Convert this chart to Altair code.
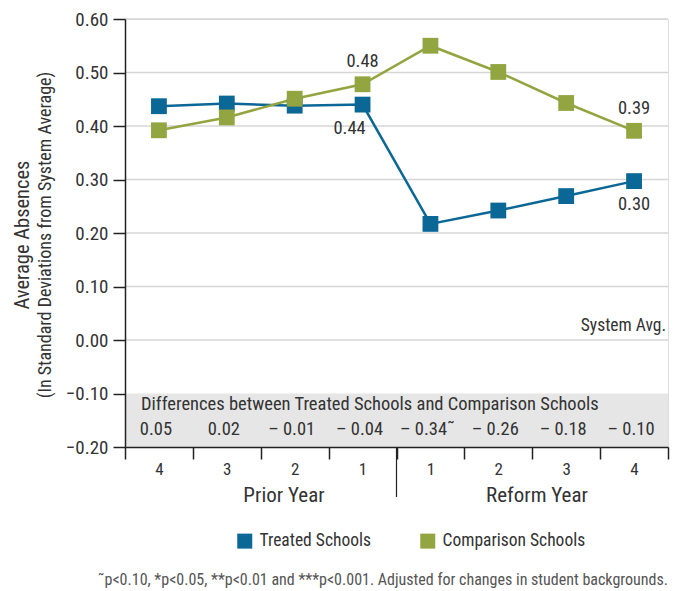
import json
import altair as alt
import pandas as pd

# ---------------- data ----------------
periods = ["P4", "P3", "P2", "P1", "R1", "R2", "R3", "R4"]
tick_labels = ["4", "3", "2", "1", "1", "2", "3", "4"]
treated = [0.437, 0.442, 0.438, 0.440, 0.217, 0.242, 0.269, 0.297]
comparison = [0.392, 0.416, 0.451, 0.478, 0.550, 0.501, 0.443, 0.391]
series_names = ["Treated Schools", "Comparison Schools"]
series_colors = ["#0b6796", "#93a540"]
differences = ["0.05", "0.02", "– 0.01", "– 0.04", "– 0.34˜", "– 0.26", "– 0.18", "– 0.10"]
y_ticks = [-0.2, -0.1, 0.0, 0.1, 0.2, 0.3, 0.4, 0.5, 0.6]
grid_values = [0.0, 0.1, 0.2, 0.3, 0.4, 0.5, 0.6]
above_series, above_periods, above_text = "Comparison Schools", ["P1", "R4"], ["0.48", "0.39"]
below_series, below_periods, below_text = "Treated Schools", ["P1", "R4"], ["0.44", "0.30"]
box_range = [-0.1, -0.2]
diff_title = "Differences between Treated Schools and Comparison Schools"
group_labels = ["Prior Year", "Reform Year"]
y_title = "Average Absences"
y_subtitle = "(In Standard Deviations from System Average)"
system_label = "System Avg."
footnote = "˜p<0.10, *p<0.05, **p<0.01 and ***p<0.001. Adjusted for changes in student backgrounds."

# ---------------- tables ----------------
long = pd.DataFrame({
    "period": periods * 2,
    "value": treated + comparison,
    "series": [series_names[0]] * len(periods) + [series_names[1]] * len(periods),
})
lookup = {(s, p): v for s, p, v in zip(long["series"], long["period"], long["value"])}
diff_df = pd.DataFrame({"period": periods, "text": differences})
grid_df = pd.DataFrame({"value": grid_values})
box_df = pd.DataFrame({"value": [box_range[0]], "value2": [box_range[1]]})

W, H = 543, 428
FONT = "Liberation Sans Narrow, Roboto Condensed, DejaVu Sans Condensed, sans-serif"
TXT = "#333333"

xscale = alt.Scale(domain=periods, type="band", paddingInner=0, paddingOuter=0)
yscale = alt.Scale(domain=[-0.2, 0.6], nice=False, zero=False)
label_map = json.dumps(dict(zip(periods, tick_labels)))

xaxis = alt.Axis(title=None, labelAngle=0, tickBand="extent",
                 labelExpr=f"{label_map}[datum.label]",
                 tickSize=12, tickWidth=1.5, tickColor="#222",
                 domainColor="#222", domainWidth=1.5,
                 labelFontSize=17, labelColor=TXT, labelPadding=2,
                 labelFont=FONT, zindex=1)
yaxis = alt.Axis(title=None, values=y_ticks, format=".2f", grid=False,
                 tickSize=12, tickWidth=1.5, tickColor="#222",
                 domainColor="#222", domainWidth=1.5,
                 labelFontSize=19, labelColor=TXT, labelPadding=5,
                 labelFont=FONT, zindex=1)


def X():
    return alt.X("period:N", scale=xscale, sort=periods, axis=xaxis)


def Y():
    return alt.Y("value:Q", scale=yscale, axis=yaxis)


legend = alt.Legend(title=None, orient="none", legendX=111, legendY=513,
                    direction="horizontal", symbolType="square",
                    symbolSize=225, symbolStrokeWidth=0, symbolOpacity=1,
                    labelFontSize=17.5, labelColor=TXT, labelFont=FONT,
                    labelOffset=6, columnPadding=48, padding=0)
color = alt.Color("series:N", scale=alt.Scale(domain=series_names, range=series_colors),
                  legend=legend)

grid = alt.Chart(grid_df).mark_rule(color="#d6d6d6", strokeWidth=1.5).encode(
    y=Y(), x=alt.value(0), x2=alt.value(W))

box = alt.Chart(box_df).mark_rect(color="#e6e6e6").encode(
    y=Y(), y2="value2:Q", x=alt.value(0), x2=alt.value(W))

lines = alt.Chart(long).mark_line(strokeWidth=2.5).encode(
    x=X(), y=Y(), color=color, detail="series:N")

points = alt.Chart(long).mark_square(size=250, opacity=1, filled=True).encode(
    x=X(), y=Y(), color=color)

# value annotations (above the comparison series, below the treated series)
anno_layers = []
above_dx = [0, 0]
below_dx = [-13, 0]
for p, t, dx in zip(above_periods, above_text, above_dx):
    df = pd.DataFrame({"period": [p], "text": [t], "value": [lookup[(above_series, p)]]})
    anno_layers.append(alt.Chart(df).mark_text(fontSize=18.5, font=FONT, color=TXT, dy=-23, dx=dx)
                       .encode(x=X(), y=Y(), text="text:N"))
for p, t, dx in zip(below_periods, below_text, below_dx):
    df = pd.DataFrame({"period": [p], "text": [t], "value": [lookup[(below_series, p)]]})
    anno_layers.append(alt.Chart(df).mark_text(fontSize=18.5, font=FONT, color=TXT, dy=23, dx=dx)
                       .encode(x=X(), y=Y(), text="text:N"))

diff_text = alt.Chart(diff_df).mark_text(fontSize=18.5, font=FONT, color=TXT, dx=-3).encode(
    x=X(), y=alt.datum(-0.166), text="text:N")

diff_head = alt.Chart(pd.DataFrame({"t": [diff_title]})).mark_text(
    fontSize=18.5, font=FONT, color=TXT, align="left").encode(
    x=alt.value(16), y=alt.datum(-0.119), text="t:N")

sys_avg = alt.Chart(pd.DataFrame({"t": [system_label]})).mark_text(
    fontSize=17.5, font=FONT, color=TXT, align="right", dy=-14).encode(
    x=alt.value(W - 2), y=alt.datum(0.0), text="t:N")

groups = alt.Chart(pd.DataFrame({"t": group_labels, "px": [159, 412]})).mark_text(
    fontSize=21, font=FONT, color=TXT).encode(
    x=alt.X("px:Q", scale=None), y=alt.value(H + 49), text="t:N")

sep = alt.Chart(pd.DataFrame({"period": ["R1"]})).mark_rule(color="#222", strokeWidth=1.2).encode(
    x=alt.X("period:N", scale=xscale, sort=periods, axis=xaxis, bandPosition=0),
    y=alt.value(H), y2=alt.value(H + 50))

ytitle = alt.Chart(pd.DataFrame({"t": [y_title]})).mark_text(
    fontSize=20.5, font=FONT, color=TXT, angle=270).encode(
    x=alt.value(-102), y=alt.value(H / 2 + 2), text="t:N")
ysub = alt.Chart(pd.DataFrame({"t": [y_subtitle]})).mark_text(
    fontSize=18, font=FONT, color=TXT, angle=270).encode(
    x=alt.value(-79), y=alt.value(H / 2 + 2), text="t:N")

foot = alt.Chart(pd.DataFrame({"t": [footnote]})).mark_text(
    fontSize=16, font=FONT, color="#555555", align="right").encode(
    x=alt.value(W), y=alt.value(H + 133), text="t:N")

chart = alt.layer(
    grid, box, lines, points, *anno_layers, diff_text, diff_head, sys_avg,
    groups, sep, ytitle, ysub, foot
).properties(
    width=W, height=H,
    autosize=alt.AutoSizeParams(type="none"),
    padding={"left": 117, "top": 11, "right": 2, "bottom": 143},
).configure_view(stroke=None).configure(background="white")

chart.save("out.html", embed_options={"renderer": "svg", "actions": False})
